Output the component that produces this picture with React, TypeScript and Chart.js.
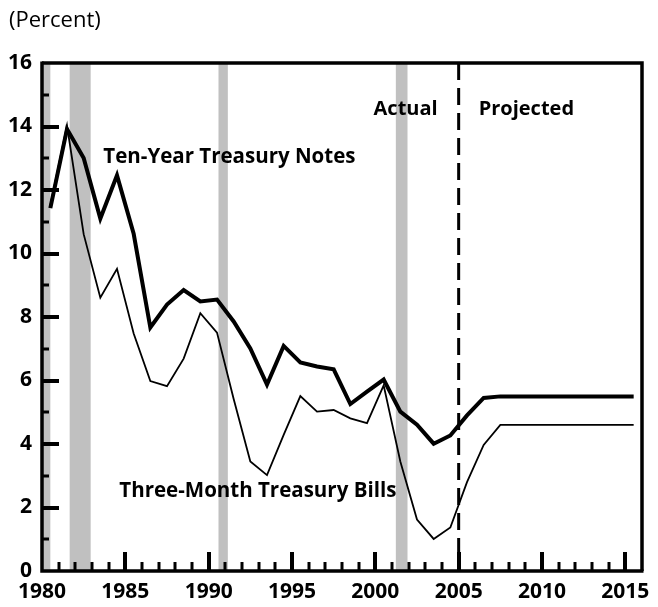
import React, { useEffect, useRef } from "react";
import { Chart, registerables } from "chart.js";

Chart.register(...registerables);

const years = [
  1980, 1981, 1982, 1983, 1984, 1985, 1986, 1987, 1988, 1989,
  1990, 1991, 1992, 1993, 1994, 1995, 1996, 1997, 1998, 1999,
  2000, 2001, 2002, 2003, 2004, 2005, 2006, 2007, 2008, 2009,
  2010, 2011, 2012, 2013, 2014, 2015,
];

const tenYearNotes = [
  11.43, 13.92, 13.01, 11.1, 12.46, 10.62, 7.67, 8.39, 8.85, 8.49,
  8.55, 7.86, 7.01, 5.87, 7.09, 6.57, 6.44, 6.35, 5.26, 5.65,
  6.03, 5.02, 4.61, 4.01, 4.27, 4.9, 5.45, 5.5, 5.5, 5.5,
  5.5, 5.5, 5.5, 5.5, 5.5, 5.5,
];

const threeMonthBills = [
  11.51, 14.03, 10.61, 8.61, 9.52, 7.48, 5.98, 5.82, 6.69, 8.12,
  7.51, 5.42, 3.45, 3.02, 4.29, 5.51, 5.02, 5.07, 4.81, 4.66,
  5.85, 3.45, 1.62, 1.01, 1.37, 2.8, 3.97, 4.6, 4.6, 4.6,
  4.6, 4.6, 4.6, 4.6, 4.6, 4.6,
];

const recessionStarts = [1980.0, 1981.66, 1990.59, 2001.23];
const recessionEnds = [1980.5, 1982.92, 1991.15, 2001.93];

const projectionStart = 2005;

const xTickLabels = [1980, 1985, 1990, 1995, 2000, 2005, 2010, 2015];
const yTickLabels = [0, 2, 4, 6, 8, 10, 12, 14, 16];
const xMinorTicks = [
  1981, 1982, 1983, 1984, 1985, 1986, 1987, 1988, 1989, 1990,
  1991, 1992, 1993, 1994, 1995, 1996, 1997, 1998, 1999, 2000,
  2001, 2002, 2003, 2004, 2005, 2006, 2007, 2008, 2009, 2010,
  2011, 2012, 2013, 2014, 2015,
];
const yMinorTicks = [1, 2, 3, 4, 5, 6, 7, 8, 9, 10, 11, 12, 13, 14, 15];

const FONT = "'Open Sans', 'Noto Sans', sans-serif";

const decorPlugin = {
  id: "decor",
  beforeDatasetsDraw(chart: any) {
    const { ctx, chartArea, scales } = chart;
    const x = scales.x;
    ctx.save();
    ctx.fillStyle = "#c0c0c0";
    for (let i = 0; i < recessionStarts.length; i++) {
      const x0 = x.getPixelForValue(recessionStarts[i]);
      const x1 = x.getPixelForValue(recessionEnds[i]);
      ctx.fillRect(x0, chartArea.top, x1 - x0, chartArea.bottom - chartArea.top);
    }
    ctx.restore();
  },
  afterDraw(chart: any) {
    const { ctx, chartArea, scales } = chart;
    const x = scales.x;
    const y = scales.y;
    const { left, right, top, bottom } = chartArea;
    ctx.save();
    ctx.setLineDash([]);
    ctx.fillStyle = "#000000";

    // y ticks (inward)
    yMinorTicks.forEach((v) => {
      const py = Math.round(y.getPixelForValue(v));
      const major = v % 2 === 0;
      const len = major ? 17 : 7;
      const w = major ? 4 : 3;
      ctx.fillRect(left, py - w / 2, len, w);
    });
    // x ticks (inward)
    xMinorTicks.forEach((yr) => {
      const px = Math.round(x.getPixelForValue(yr));
      const major = yr % 5 === 0;
      const len = major ? 19 : 9;
      const w = major ? 4 : 3;
      ctx.fillRect(px - w / 2, bottom - len, w, len);
    });

    ctx.strokeStyle = "#000000";
    // dashed projection line
    const xp = x.getPixelForValue(projectionStart);
    ctx.lineWidth = 3;
    ctx.setLineDash([17, 8]);
    ctx.beginPath();
    ctx.moveTo(xp, top);
    ctx.lineTo(xp, bottom);
    ctx.stroke();
    ctx.setLineDash([]);

    // frame
    ctx.lineWidth = 3.5;
    ctx.beginPath();
    ctx.moveTo(left, top);
    ctx.lineTo(right, top);
    ctx.lineTo(right, bottom);
    ctx.stroke();
    ctx.beginPath();
    ctx.moveTo(left, top - 1.5);
    ctx.lineTo(left, bottom);
    ctx.lineTo(right + 1.5, bottom);
    ctx.stroke();

    // labels
    ctx.fillStyle = "#000";
    ctx.textBaseline = "middle";
    ctx.font = `bold 20.5px ${FONT}`;
    ctx.textAlign = "left";
    ctx.fillText("Ten-Year Treasury Notes", x.getPixelForValue(1983.68), y.getPixelForValue(13.05));
    ctx.fillText("Three-Month Treasury Bills", x.getPixelForValue(1984.64), y.getPixelForValue(2.52));
    ctx.font = `bold 20px ${FONT}`;
    ctx.fillText("Projected", x.getPixelForValue(2006.2), y.getPixelForValue(14.54));
    ctx.textAlign = "right";
    ctx.fillText("Actual", x.getPixelForValue(2003.74), y.getPixelForValue(14.54));

    ctx.textAlign = "left";
    ctx.font = `22px ${FONT}`;
    ctx.fillText("(Percent)", 9, 21);
    ctx.restore();
  },
};

export default function App() {
  const canvasRef = useRef<HTMLCanvasElement | null>(null);

  useEffect(() => {
    document.body.style.margin = "0";
    const canvas = canvasRef.current;
    if (!canvas) return;
    const chart = new Chart(canvas, {
      type: "line",
      data: {
        datasets: [
          {
            label: "Ten-Year Treasury Notes",
            data: years.map((yr, i) => ({ x: yr + 0.5, y: tenYearNotes[i] })),
            borderColor: "#000",
            borderWidth: 4,
            pointRadius: 0,
            tension: 0,
            borderJoinStyle: "miter",
          },
          {
            label: "Three-Month Treasury Bills",
            data: years.map((yr, i) => ({ x: yr + 0.5, y: threeMonthBills[i] })),
            borderColor: "#000",
            borderWidth: 1.8,
            pointRadius: 0,
            tension: 0,
            borderJoinStyle: "miter",
          },
        ],
      },
      options: {
        responsive: false,
        animation: false,
        events: [],
        layout: { padding: { top: 63, right: 16, left: 0, bottom: 0 } },
        plugins: { legend: { display: false }, tooltip: { enabled: false } },
        scales: {
          x: {
            type: "linear",
            min: 1980,
            max: 2016,
            grid: { display: false, drawTicks: false },
            border: { display: false },
            afterFit: (s: any) => { s.height = 36; },
            afterBuildTicks: (s: any) => { s.ticks = xTickLabels.map((v) => ({ value: v })); },
            ticks: {
              autoSkip: false,
              maxRotation: 0,
              padding: 8,
              color: "#000",
              font: { family: FONT, size: 21, weight: "bold" },
              callback: (v: any) => String(v),
            },
          },
          y: {
            min: 0,
            max: 16,
            grid: { display: false, drawTicks: false },
            border: { display: false },
            afterFit: (s: any) => { s.width = 42; },
            afterBuildTicks: (s: any) => { s.ticks = yTickLabels.map((v) => ({ value: v })); },
            ticks: {
              padding: 10,
              color: "#000",
              font: { family: FONT, size: 21, weight: "bold" },
              callback: (v: any) => String(v),
            },
          },
        },
      },
      plugins: [decorPlugin],
    });
    return () => chart.destroy();
  }, []);

  return (
    <div style={{ width: 658, height: 607 }}>
      <canvas ref={canvasRef} width={658} height={607} style={{ display: "block", width: 658, height: 607 }} />
    </div>
  );
}
